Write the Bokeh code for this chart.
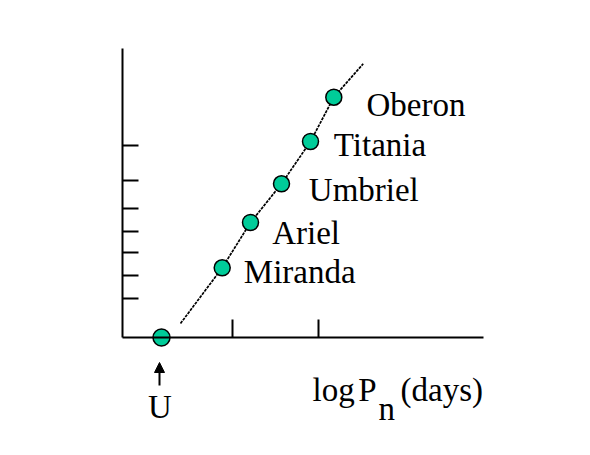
from bokeh.plotting import figure
from bokeh.models import ColumnDataSource, FixedTicker, Range1d, Arrow, NormalHead
from bokeh.core.properties import value
from bokeh.embed import file_html
from bokeh.resources import INLINE

# ---- data (chart units) ----
moons = ["Miranda", "Ariel", "Umbriel", "Titania", "Oberon"]
log_period = [99.7, 128, 159, 188, 211.3]
log_axis = [69.7, 115, 153.7, 196, 240.3]
planet = ["U"]
planet_period = [39]
planet_axis = [0]
line_start = (58, 14)
line_end = (240.7, 273.7)
x_ticks = [110, 196]
y_ticks = [39, 62, 85, 106, 129, 157, 192]
x_axis_extent = (0, 361)
y_axis_extent = (0, 289)

# ---- label placement (pixels) ----
label_dx = [21.6, 21.7, 27.3, 23.3, 32.7]
label_dy = [4, 10, 6.4, 3.7, 7.3]

FONT = value("Liberation Serif")
FS = "33px"
GREEN = "#00CC99"

p = figure(width=590, height=455, output_backend="svg", toolbar_location=None,
           x_range=Range1d(-122, 468), y_range=Range1d(-118, 337),
           min_border=0, outline_line_color=None)
p.background_fill_color = "white"
p.border_fill_color = "white"
p.xgrid.visible = False
p.ygrid.visible = False

for ax, ticks, ext, tin in ((p.xaxis[0], x_ticks, x_axis_extent, 18),
                            (p.yaxis[0], y_ticks, y_axis_extent, 16)):
    ax.fixed_location = 0
    ax.bounds = ext
    ax.ticker = FixedTicker(ticks=ticks)
    ax.major_tick_in = tin
    ax.major_tick_out = 0
    ax.minor_tick_line_color = None
    ax.major_label_text_color = None
    ax.axis_line_width = 2
    ax.axis_line_color = "black"
    ax.major_tick_line_width = 2
    ax.major_tick_line_color = "black"

# fit line through the moons
lx = [line_start[0]] + log_period + [line_end[0]]
ly = [line_start[1]] + log_axis + [line_end[1]]
p.line(lx, ly, line_color="black", line_width=1.7, line_dash="3 1")

src = ColumnDataSource(dict(x=log_period, y=log_axis, name=moons,
                            dx=label_dx, dy=label_dy))
p.scatter("x", "y", source=src, size=16, fill_color=GREEN,
          line_color="black", line_width=1.5)
p.scatter(planet_period, planet_axis, size=17, fill_color=GREEN,
          line_color="black", line_width=1.5)

p.text("x", "y", text="name", source=src, x_offset="dx", y_offset="dy",
       text_font=FONT, text_font_size=FS, text_color="black",
       text_align="left", text_baseline="alphabetic")

# planet marker arrow and label
p.add_layout(Arrow(end=NormalHead(size=10, fill_color="black", line_color="black"),
                   x_start=planet_period[0] - 2, y_start=-48,
                   x_end=planet_period[0] - 2, y_end=-25,
                   line_width=2, line_color="black"))
p.text([planet_period[0] - 1.5], [-69], text=planet, text_font=FONT,
       text_font_size=FS, text_align="center", text_baseline="alphabetic")

# x-axis title: log P_n (days)
p.text([190], [-52], text=["log"], text_font=FONT, text_font_size=FS,
       text_align="left", text_baseline="alphabetic")
p.text([254], [-52], text=["P"], text_font=FONT, text_font_size=FS,
       text_align="right", text_baseline="alphabetic")
p.text([256], [-71], text=["n"], text_font=FONT, text_font_size=FS,
       text_align="left", text_baseline="alphabetic")
p.text([278], [-52], text=["(days)"], text_font=FONT, text_font_size=FS,
       text_align="left", text_baseline="alphabetic")

open("out.html", "w").write(file_html(p, INLINE))
